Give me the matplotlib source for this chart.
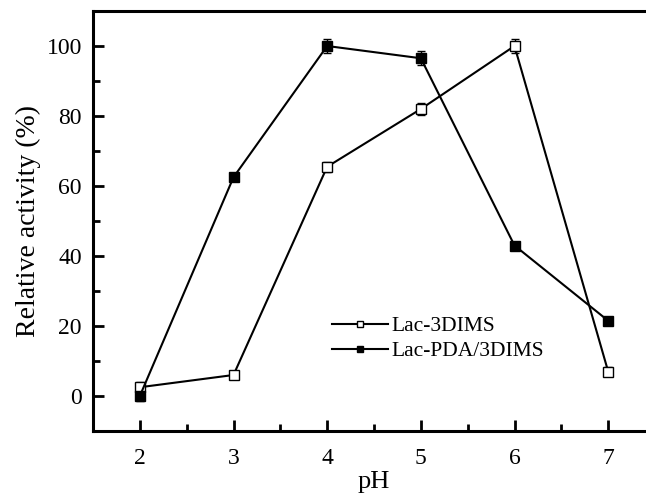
import numpy as np
import matplotlib.pyplot as plt
from matplotlib.ticker import MultipleLocator

plt.rcParams['font.family'] = ['Liberation Serif', 'DejaVu Serif']

ph = [2, 3, 4, 5, 6, 7]
lac_3dims = [2.5, 6.0, 65.5, 82.0, 100.0, 7.0]
lac_3dims_err = [1.5, 1.2, 1.5, 1.8, 2.0, 1.2]
lac_pda = [0.0, 62.5, 100.0, 96.5, 43.0, 21.5]
lac_pda_err = [1.5, 1.2, 2.0, 2.0, 1.0, 1.2]

fig = plt.figure(figsize=(6.46, 4.93), dpi=100)
ax = fig.add_axes([93 / 646, 62 / 493, 562 / 646, 420 / 493])

ax.errorbar(ph, lac_3dims, yerr=lac_3dims_err, color='black', lw=1.5,
            marker='s', ms=6.5, mfc='white', mec='black', mew=1.0,
            capsize=3, elinewidth=1.0, label='Lac-3DIMS')
ax.errorbar(ph, lac_pda, yerr=lac_pda_err, color='black', lw=1.5,
            marker='s', ms=6.5, mfc='black', mec='black',
            capsize=3, elinewidth=1.0, label='Lac-PDA/3DIMS')

ax.set_xlim(1.5, 7.5)
ax.set_ylim(-10, 110)
ax.xaxis.set_major_locator(MultipleLocator(1))
ax.xaxis.set_minor_locator(MultipleLocator(0.5))
ax.yaxis.set_major_locator(MultipleLocator(20))
ax.yaxis.set_minor_locator(MultipleLocator(10))
ax.tick_params(which='both', direction='in', width=2, labelsize=17)
ax.tick_params(axis='x', which='major', length=8, pad=12)
ax.tick_params(axis='y', which='major', length=8, pad=8)
ax.tick_params(which='minor', length=5)
ax.tick_params(top=False, right=False, which='both')
for s in ax.spines.values():
    s.set_linewidth(2.2)

ax.set_xlabel('pH', fontsize=19, labelpad=2)
ax.set_ylabel('Relative activity (%)', fontsize=20, labelpad=4)

handles, labels = ax.get_legend_handles_labels()
handles = [h[0] for h in handles]
leg = ax.legend(handles, labels, loc='upper left', bbox_to_anchor=(0.39, 0.32),
                frameon=False, fontsize=15.5, handlelength=2.6, handletextpad=0.2,
                labelspacing=0.25, markerscale=0.75)

fig.savefig('out.png', dpi=100)
